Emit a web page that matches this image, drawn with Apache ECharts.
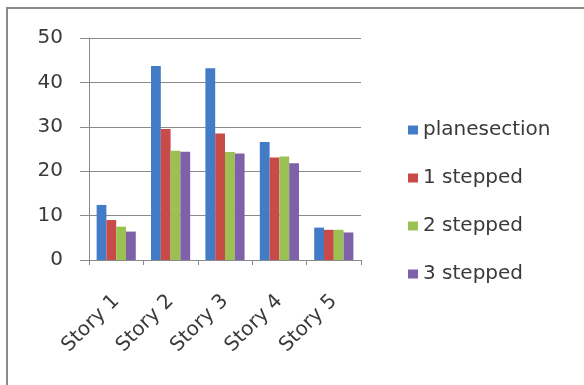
<!DOCTYPE html>
<html>
<head>
<meta charset="utf-8">
<script src="https://cdn.jsdelivr.net/npm/echarts@6/dist/echarts.min.js"></script>
<style>
  html, body { margin: 0; padding: 0; background: #fff; }
  #chart { width: 584px; height: 385px; }
</style>
</head>
<body>
<div id="chart"></div>
<script>
// Storey-wise values for each section type
const categories = ['Story 1', 'Story 2', 'Story 3', 'Story 4', 'Story 5'];
const seriesNames = ['planesection', '1 stepped', '2 stepped', '3 stepped'];
const planesection = [12.4, 43.7, 43.2, 26.6, 7.3];
const stepped1 = [9.0, 29.5, 28.5, 23.1, 6.8];
const stepped2 = [7.5, 24.6, 24.3, 23.3, 6.8];
const stepped3 = [6.4, 24.4, 24.0, 21.8, 6.2];
const yTicks = [0, 10, 20, 30, 40, 50];

const colors = ['#437CC6', '#C94B49', '#9BC152', '#7E61A8'];
const values = [planesection, stepped1, stepped2, stepped3];
const font = '"DejaVu Sans", sans-serif';

const chart = echarts.init(document.getElementById('chart'), null, { renderer: 'canvas' });
chart.setOption({
  animation: false,
  color: colors,
  graphic: [
    { type: 'polyline', shape: { points: [[7, 385], [7, 8], [584, 8]] },
      style: { stroke: '#8a8a8a', lineWidth: 2, fill: null } }
  ],
  grid: { left: 89, right: 223, top: 38, bottom: 125 },
  legend: {
    orient: 'vertical',
    left: 403, top: 115,
    itemWidth: 10, itemHeight: 9, itemGap: 28,
    icon: 'rect',
    textStyle: { fontFamily: font, fontSize: 20, color: '#3a3a3a' },
    data: seriesNames
  },
  xAxis: {
    type: 'category',
    data: categories,
    axisLine: { lineStyle: { color: '#8a8a8a', width: 1 } },
    axisTick: { show: true, length: 5, lineStyle: { color: '#8a8a8a' } },
    axisLabel: { rotate: 45, fontFamily: font, fontSize: 20, color: '#3a3a3a', margin: 38, interval: 0 }
  },
  yAxis: {
    type: 'value',
    min: yTicks[0], max: yTicks[yTicks.length - 1], interval: 10,
    axisLine: { show: true, lineStyle: { color: '#8a8a8a', width: 1 } },
    axisTick: { show: true, length: 9, lineStyle: { color: '#8a8a8a' } },
    splitLine: { lineStyle: { color: '#8a8a8a', width: 1 } },
    axisLabel: { fontFamily: font, fontSize: 20, color: '#3a3a3a', margin: 26 }
  },
  series: seriesNames.map((name, i) => ({
    name: name,
    type: 'bar',
    data: values[i],
    barGap: '0%',
    barCategoryGap: '28%',
    itemStyle: { color: colors[i] }
  }))
});
</script>
</body>
</html>
